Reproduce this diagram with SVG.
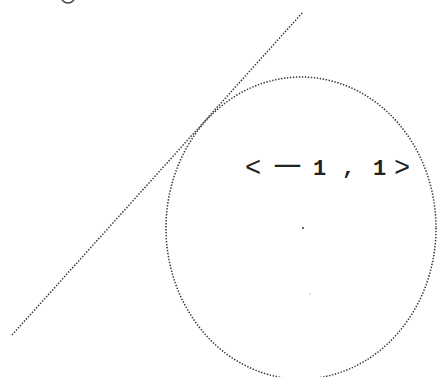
<svg xmlns="http://www.w3.org/2000/svg" width="437" height="377" viewBox="0 0 437 377">
<style>
.dot{fill:none;stroke:#333;stroke-width:1.5;stroke-dasharray:1.4 1.6}
.lbl{font-family:"Liberation Mono",monospace;font-size:22px;font-weight:bold;fill:#222}
.br{font-family:"Liberation Mono",monospace;font-size:27px;fill:#222}
</style>
<rect width="437" height="377" fill="#fff"/>
<g id="connectors">
<line class="dot" x1="12" y1="335" x2="303" y2="12"/>
</g>
<g id="circle">
<ellipse class="dot" cx="301" cy="228" rx="135" ry="151"/>
<circle cx="303" cy="228" r="1" fill="#333"/>
<circle cx="310" cy="294" r="0.8" fill="#bbb"/>
</g>
<g id="label">
<text class="br" y="176" x="245">&lt;</text>
<text class="lbl" y="172" x="275" textLength="25" lengthAdjust="spacingAndGlyphs">—</text>
<text class="lbl" y="175" x="313">1</text>
<text class="lbl" y="174" x="342">,</text>
<text class="lbl" y="175" x="373">1</text>
<text class="br" y="176" x="394">&gt;</text>
</g>
<g id="corner">
<circle cx="68" cy="-4" r="7" fill="none" stroke="#444" stroke-width="1.5"/>
</g>
</svg>
